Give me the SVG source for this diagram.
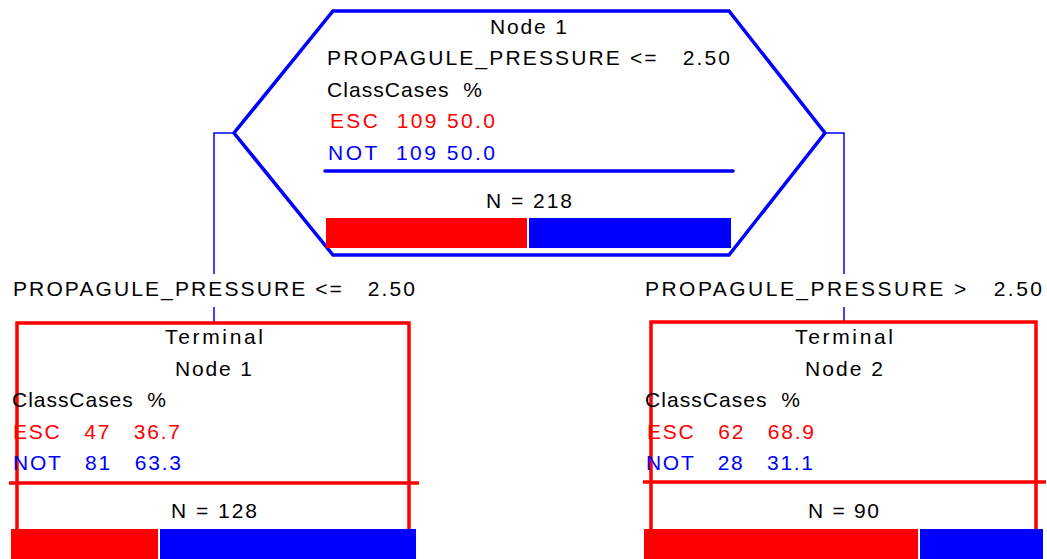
<svg xmlns="http://www.w3.org/2000/svg" width="1047" height="559" viewBox="0 0 1047 559" xml:space="preserve">
<style>
text{font-family:"Liberation Sans",Arial,sans-serif;font-size:21px;white-space:pre}
.k{fill:#000}
.r{fill:#FF0000}
.b{fill:#0000FF}
.c{text-anchor:middle}
.conn{fill:none;stroke:#0000FF;stroke-width:1.5}
.hex{fill:#fff;stroke:#0000FF;stroke-width:3.5;stroke-linejoin:miter}
.tbox{fill:none;stroke:#FF0000;stroke-width:3.5}
.sepb{stroke:#0000FF;stroke-width:3.5;stroke-linecap:round}
.sepr{stroke:#FF0000;stroke-width:3.5}
.br{fill:#FF0000}
.bb{fill:#0000FF}
</style>
<rect width="1047" height="559" fill="#fff"/>
<g id="connectors">
<path class="conn" d="M234,133 H214 V274 M214,307 V323"/>
<path class="conn" d="M825,133 H844 V274 M844,307 V322"/>
<text class="k" x="13" y="296" textLength="402" lengthAdjust="spacing">PROPAGULE_PRESSURE &lt;=   2.50</text>
<text class="k" x="645" y="296" textLength="397" lengthAdjust="spacing">PROPAGULE_PRESSURE &gt;   2.50</text>
</g>
<g id="node1">
<polygon class="hex" points="333,11 729,11 825,133 729,255 333,255 234,133"/>
<text class="k" x="490" y="34" textLength="77" lengthAdjust="spacing">Node 1</text>
<text class="k" x="327" y="65" textLength="403" lengthAdjust="spacing">PROPAGULE_PRESSURE &lt;=   2.50</text>
<text class="k" x="327" y="97" textLength="155" lengthAdjust="spacing">ClassCases  %</text>
<text class="r" x="330" y="128" textLength="165" lengthAdjust="spacing">ESC  109 50.0</text>
<text class="b" x="328" y="160" textLength="167" lengthAdjust="spacing">NOT  109 50.0</text>
<line class="sepb" x1="325" y1="171" x2="733" y2="171"/>
<text class="k" x="486" y="208" textLength="86" lengthAdjust="spacing">N = 218</text>
<rect class="br" x="326" y="218" width="201" height="30"/>
<rect class="bb" x="529" y="218" width="202" height="30"/>
</g>
<g id="terminal1">
<path class="tbox" d="M17,559 V323 H409 V559"/>
<text class="k" x="165" y="344" textLength="98" lengthAdjust="spacing">Terminal</text>
<text class="k" x="175" y="376" textLength="77" lengthAdjust="spacing">Node 1</text>
<text class="k" x="12" y="407" textLength="154" lengthAdjust="spacing">ClassCases  %</text>
<text class="r" x="13" y="439" textLength="167" lengthAdjust="spacing">ESC   47   36.7</text>
<text class="b" x="13" y="470" textLength="168" lengthAdjust="spacing">NOT   81   63.3</text>
<line class="sepr" x1="9" y1="483" x2="419" y2="483"/>
<text class="k" x="171" y="518" textLength="86" lengthAdjust="spacing">N = 128</text>
<rect class="br" x="11" y="529" width="147" height="30"/>
<rect class="bb" x="160" y="529" width="256" height="30"/>
</g>
<g id="terminal2">
<path class="tbox" d="M651,559 V322 H1036 V559"/>
<text class="k" x="795" y="344" textLength="98" lengthAdjust="spacing">Terminal</text>
<text class="k" x="805" y="376" textLength="78" lengthAdjust="spacing">Node 2</text>
<text class="k" x="645" y="407" textLength="155" lengthAdjust="spacing">ClassCases  %</text>
<text class="r" x="647" y="439" textLength="167" lengthAdjust="spacing">ESC   62   68.9</text>
<text class="b" x="646" y="470" textLength="167" lengthAdjust="spacing">NOT   28   31.1</text>
<line class="sepr" x1="643" y1="482" x2="1046" y2="482"/>
<text class="k" x="808" y="518" textLength="71" lengthAdjust="spacing">N = 90</text>
<rect class="br" x="644" y="529" width="274" height="30"/>
<rect class="bb" x="920" y="529" width="123" height="30"/>
</g>
</svg>
